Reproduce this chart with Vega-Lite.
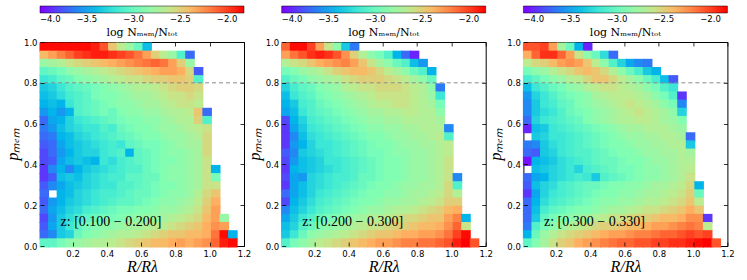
{
"$schema":"https://vega.github.io/schema/vega-lite/v6.json",
"padding":{"left":3,"top":5,"right":5,"bottom":0},
"background":"white",
"config":{
"view":{"stroke":"black","strokeWidth":1},
"rect":{"binSpacing":0},
"axis":{"grid":false,"domain":false,"tickColor":"black","tickSize":-4,"tickWidth":0.8,"labelFont":"DejaVu Sans","labelFontSize":8.5,"labelColor":"black","labelPadding":7,"labelFlush":false,"titleFont":"Liberation Serif","titleFontStyle":"italic","titleFontWeight":"normal","titleFontSize":16,"titleColor":"black"},
"legend":{"orient":"top","direction":"horizontal","gradientLength":204,"gradientThickness":7,"titleOrient":"bottom","titleAnchor":"middle","labelAlign":"center","labelOffset":2,"titlePadding":3,"offset":3,"padding":0,"titleFont":"DejaVu Serif","titleFontSize":11,"titleFontWeight":"normal","titleColor":"black","labelFont":"DejaVu Sans","labelFontSize":8.5,"labelColor":"black","gradientStrokeColor":"black","gradientStrokeWidth":0.5}
},
"datasets":{
"z1":[
{"r":0.01,"p":0.96,"v":-1.85},{"r":0.06,"p":0.96,"v":-1.85},{"r":0.11,"p":0.96,"v":-1.85},{"r":0.16,"p":0.96,"v":-1.85},{"r":0.21,"p":0.96,"v":-1.85},{"r":0.26,"p":0.96,"v":-1.85},{"r":0.31,"p":0.96,"v":-1.9},{"r":0.36,"p":0.96,"v":-2.05},{"r":0.41,"p":0.96,"v":-2.45},{"r":0.46,"p":0.96,"v":-2.65},{"r":0.51,"p":0.96,"v":-2.8},{"r":0.56,"p":0.96,"v":-3.0},{"r":0.61,"p":0.96,"v":-3.4},
{"r":0.01,"p":0.92,"v":-2.4},{"r":0.06,"p":0.92,"v":-2.3},{"r":0.11,"p":0.92,"v":-2.2},{"r":0.16,"p":0.92,"v":-2.1},{"r":0.21,"p":0.92,"v":-2.0},{"r":0.26,"p":0.92,"v":-1.95},{"r":0.31,"p":0.92,"v":-1.9},{"r":0.36,"p":0.92,"v":-1.9},{"r":0.41,"p":0.92,"v":-1.95},{"r":0.46,"p":0.92,"v":-2.0},{"r":0.51,"p":0.92,"v":-2.05},{"r":0.56,"p":0.92,"v":-2.15},{"r":0.61,"p":0.92,"v":-2.3},{"r":0.66,"p":0.92,"v":-2.5},{"r":0.71,"p":0.92,"v":-2.65},{"r":0.76,"p":0.92,"v":-2.8},{"r":0.81,"p":0.92,"v":-3.1},{"r":0.86,"p":0.92,"v":-3.7},
{"r":0.01,"p":0.88,"v":-2.8},{"r":0.06,"p":0.88,"v":-2.75},{"r":0.11,"p":0.88,"v":-2.7},{"r":0.16,"p":0.88,"v":-2.6},{"r":0.21,"p":0.88,"v":-2.55},{"r":0.26,"p":0.88,"v":-2.5},{"r":0.31,"p":0.88,"v":-2.45},{"r":0.36,"p":0.88,"v":-2.4},{"r":0.41,"p":0.88,"v":-2.35},{"r":0.46,"p":0.88,"v":-2.3},{"r":0.51,"p":0.88,"v":-2.25},{"r":0.56,"p":0.88,"v":-2.2},{"r":0.61,"p":0.88,"v":-2.15},{"r":0.66,"p":0.88,"v":-2.1},{"r":0.71,"p":0.88,"v":-2.15},{"r":0.76,"p":0.88,"v":-2.3},{"r":0.81,"p":0.88,"v":-2.5},{"r":0.86,"p":0.88,"v":-2.8},
{"r":0.01,"p":0.84,"v":-3.05},{"r":0.06,"p":0.84,"v":-3.0},{"r":0.11,"p":0.84,"v":-2.95},{"r":0.16,"p":0.84,"v":-2.85},{"r":0.21,"p":0.84,"v":-2.8},{"r":0.26,"p":0.84,"v":-2.75},{"r":0.31,"p":0.84,"v":-2.7},{"r":0.36,"p":0.84,"v":-2.65},{"r":0.41,"p":0.84,"v":-2.6},{"r":0.46,"p":0.84,"v":-2.55},{"r":0.51,"p":0.84,"v":-2.5},{"r":0.56,"p":0.84,"v":-2.45},{"r":0.61,"p":0.84,"v":-2.4},{"r":0.66,"p":0.84,"v":-2.35},{"r":0.71,"p":0.84,"v":-2.3},{"r":0.76,"p":0.84,"v":-2.3},{"r":0.81,"p":0.84,"v":-2.35},{"r":0.86,"p":0.84,"v":-2.55},{"r":0.91,"p":0.84,"v":-3.75},
{"r":0.01,"p":0.8,"v":-3.2},{"r":0.06,"p":0.8,"v":-3.15},{"r":0.11,"p":0.8,"v":-3.05},{"r":0.16,"p":0.8,"v":-3.0},{"r":0.21,"p":0.8,"v":-2.9},{"r":0.26,"p":0.8,"v":-2.85},{"r":0.31,"p":0.8,"v":-2.8},{"r":0.36,"p":0.8,"v":-2.75},{"r":0.41,"p":0.8,"v":-2.7},{"r":0.46,"p":0.8,"v":-2.65},{"r":0.51,"p":0.8,"v":-2.6},{"r":0.56,"p":0.8,"v":-2.6},{"r":0.61,"p":0.8,"v":-2.55},{"r":0.66,"p":0.8,"v":-2.5},{"r":0.71,"p":0.8,"v":-2.5},{"r":0.76,"p":0.8,"v":-2.45},{"r":0.81,"p":0.8,"v":-2.45},{"r":0.86,"p":0.8,"v":-2.5},{"r":0.91,"p":0.8,"v":-3.1},
{"r":0.01,"p":0.76,"v":-3.35},{"r":0.06,"p":0.76,"v":-3.3},{"r":0.11,"p":0.76,"v":-3.2},{"r":0.16,"p":0.76,"v":-3.1},{"r":0.21,"p":0.76,"v":-3.05},{"r":0.26,"p":0.76,"v":-3.0},{"r":0.31,"p":0.76,"v":-2.95},{"r":0.36,"p":0.76,"v":-2.9},{"r":0.41,"p":0.76,"v":-2.85},{"r":0.46,"p":0.76,"v":-2.8},{"r":0.51,"p":0.76,"v":-2.75},{"r":0.56,"p":0.76,"v":-2.7},{"r":0.61,"p":0.76,"v":-2.7},{"r":0.66,"p":0.76,"v":-2.65},{"r":0.71,"p":0.76,"v":-2.6},{"r":0.76,"p":0.76,"v":-2.55},{"r":0.81,"p":0.76,"v":-2.5},{"r":0.86,"p":0.76,"v":-2.5},{"r":0.91,"p":0.76,"v":-2.55},
{"r":0.01,"p":0.72,"v":-3.4},{"r":0.06,"p":0.72,"v":-3.35},{"r":0.11,"p":0.72,"v":-3.25},{"r":0.16,"p":0.72,"v":-3.15},{"r":0.21,"p":0.72,"v":-3.1},{"r":0.26,"p":0.72,"v":-3.05},{"r":0.31,"p":0.72,"v":-2.95},{"r":0.36,"p":0.72,"v":-2.9},{"r":0.41,"p":0.72,"v":-2.9},{"r":0.46,"p":0.72,"v":-2.85},{"r":0.51,"p":0.72,"v":-2.8},{"r":0.56,"p":0.72,"v":-2.75},{"r":0.61,"p":0.72,"v":-2.75},{"r":0.66,"p":0.72,"v":-2.7},{"r":0.71,"p":0.72,"v":-2.65},{"r":0.76,"p":0.72,"v":-2.6},{"r":0.81,"p":0.72,"v":-2.6},{"r":0.86,"p":0.72,"v":-2.55},{"r":0.91,"p":0.72,"v":-2.6},
{"r":0.01,"p":0.68,"v":-3.45},{"r":0.06,"p":0.68,"v":-3.4},{"r":0.11,"p":0.68,"v":-3.45},{"r":0.16,"p":0.68,"v":-3.2},{"r":0.21,"p":0.68,"v":-3.1},{"r":0.26,"p":0.68,"v":-3.05},{"r":0.31,"p":0.68,"v":-3.0},{"r":0.36,"p":0.68,"v":-2.95},{"r":0.41,"p":0.68,"v":-2.9},{"r":0.46,"p":0.68,"v":-2.85},{"r":0.51,"p":0.68,"v":-2.85},{"r":0.56,"p":0.68,"v":-2.8},{"r":0.61,"p":0.68,"v":-2.75},{"r":0.66,"p":0.68,"v":-2.75},{"r":0.71,"p":0.68,"v":-2.7},{"r":0.76,"p":0.68,"v":-2.65},{"r":0.81,"p":0.68,"v":-2.6},{"r":0.86,"p":0.68,"v":-2.6},{"r":0.91,"p":0.68,"v":-2.65},
{"r":0.01,"p":0.64,"v":-3.55},{"r":0.06,"p":0.64,"v":-3.45},{"r":0.11,"p":0.64,"v":-3.55},{"r":0.16,"p":0.64,"v":-3.45},{"r":0.21,"p":0.64,"v":-3.1},{"r":0.26,"p":0.64,"v":-3.05},{"r":0.31,"p":0.64,"v":-3.0},{"r":0.36,"p":0.64,"v":-2.95},{"r":0.41,"p":0.64,"v":-3.0},{"r":0.46,"p":0.64,"v":-2.9},{"r":0.51,"p":0.64,"v":-2.85},{"r":0.56,"p":0.64,"v":-2.85},{"r":0.61,"p":0.64,"v":-2.8},{"r":0.66,"p":0.64,"v":-2.8},{"r":0.71,"p":0.64,"v":-2.75},{"r":0.76,"p":0.64,"v":-2.7},{"r":0.81,"p":0.64,"v":-2.7},{"r":0.86,"p":0.64,"v":-2.65},{"r":0.91,"p":0.64,"v":-2.45},{"r":0.96,"p":0.64,"v":-3.7},
{"r":0.01,"p":0.6,"v":-3.7},{"r":0.06,"p":0.6,"v":-3.5},{"r":0.11,"p":0.6,"v":-3.45},{"r":0.16,"p":0.6,"v":-3.3},{"r":0.21,"p":0.6,"v":-3.2},{"r":0.26,"p":0.6,"v":-3.15},{"r":0.31,"p":0.6,"v":-3.1},{"r":0.36,"p":0.6,"v":-3.05},{"r":0.41,"p":0.6,"v":-3.0},{"r":0.46,"p":0.6,"v":-2.95},{"r":0.51,"p":0.6,"v":-2.9},{"r":0.56,"p":0.6,"v":-2.9},{"r":0.61,"p":0.6,"v":-2.85},{"r":0.66,"p":0.6,"v":-2.85},{"r":0.71,"p":0.6,"v":-2.8},{"r":0.76,"p":0.6,"v":-2.75},{"r":0.81,"p":0.6,"v":-2.7},{"r":0.86,"p":0.6,"v":-2.7},{"r":0.91,"p":0.6,"v":-2.5},{"r":0.96,"p":0.6,"v":-3.1},
{"r":0.01,"p":0.56,"v":-3.65},{"r":0.06,"p":0.56,"v":-3.55},{"r":0.11,"p":0.56,"v":-3.4},{"r":0.16,"p":0.56,"v":-3.3},{"r":0.21,"p":0.56,"v":-3.25},{"r":0.26,"p":0.56,"v":-3.2},{"r":0.31,"p":0.56,"v":-3.2},{"r":0.36,"p":0.56,"v":-3.1},{"r":0.41,"p":0.56,"v":-3.15},{"r":0.46,"p":0.56,"v":-3.0},{"r":0.51,"p":0.56,"v":-2.95},{"r":0.56,"p":0.56,"v":-2.9},{"r":0.61,"p":0.56,"v":-2.9},{"r":0.66,"p":0.56,"v":-2.85},{"r":0.71,"p":0.56,"v":-2.8},{"r":0.76,"p":0.56,"v":-2.8},{"r":0.81,"p":0.56,"v":-2.75},{"r":0.86,"p":0.56,"v":-2.7},{"r":0.91,"p":0.56,"v":-2.65},{"r":0.96,"p":0.56,"v":-2.6},
{"r":0.01,"p":0.52,"v":-3.7},{"r":0.06,"p":0.52,"v":-3.65},{"r":0.11,"p":0.52,"v":-3.45},{"r":0.16,"p":0.52,"v":-3.4},{"r":0.21,"p":0.52,"v":-3.3},{"r":0.26,"p":0.52,"v":-3.25},{"r":0.31,"p":0.52,"v":-3.2},{"r":0.36,"p":0.52,"v":-3.15},{"r":0.41,"p":0.52,"v":-3.1},{"r":0.46,"p":0.52,"v":-3.05},{"r":0.51,"p":0.52,"v":-3.0},{"r":0.56,"p":0.52,"v":-2.95},{"r":0.61,"p":0.52,"v":-2.9},{"r":0.66,"p":0.52,"v":-2.9},{"r":0.71,"p":0.52,"v":-2.85},{"r":0.76,"p":0.52,"v":-2.8},{"r":0.81,"p":0.52,"v":-2.8},{"r":0.86,"p":0.52,"v":-2.75},{"r":0.91,"p":0.52,"v":-2.7},{"r":0.96,"p":0.52,"v":-2.55},
{"r":0.01,"p":0.48,"v":-3.75},{"r":0.06,"p":0.48,"v":-3.7},{"r":0.11,"p":0.48,"v":-3.5},{"r":0.16,"p":0.48,"v":-3.4},{"r":0.21,"p":0.48,"v":-3.35},{"r":0.26,"p":0.48,"v":-3.3},{"r":0.31,"p":0.48,"v":-3.25},{"r":0.36,"p":0.48,"v":-3.2},{"r":0.41,"p":0.48,"v":-3.15},{"r":0.46,"p":0.48,"v":-3.2},{"r":0.51,"p":0.48,"v":-3.05},{"r":0.56,"p":0.48,"v":-3.0},{"r":0.61,"p":0.48,"v":-2.95},{"r":0.66,"p":0.48,"v":-2.95},{"r":0.71,"p":0.48,"v":-2.9},{"r":0.76,"p":0.48,"v":-2.85},{"r":0.81,"p":0.48,"v":-2.8},{"r":0.86,"p":0.48,"v":-2.75},{"r":0.91,"p":0.48,"v":-2.75},{"r":0.96,"p":0.48,"v":-2.55},
{"r":0.01,"p":0.44,"v":-3.8},{"r":0.06,"p":0.44,"v":-3.7},{"r":0.11,"p":0.44,"v":-3.55},{"r":0.16,"p":0.44,"v":-3.45},{"r":0.21,"p":0.44,"v":-3.35},{"r":0.26,"p":0.44,"v":-3.3},{"r":0.31,"p":0.44,"v":-3.3},{"r":0.36,"p":0.44,"v":-3.2},{"r":0.41,"p":0.44,"v":-3.15},{"r":0.46,"p":0.44,"v":-3.1},{"r":0.51,"p":0.44,"v":-3.45},{"r":0.56,"p":0.44,"v":-3.05},{"r":0.61,"p":0.44,"v":-3.0},{"r":0.66,"p":0.44,"v":-2.95},{"r":0.71,"p":0.44,"v":-2.9},{"r":0.76,"p":0.44,"v":-2.85},{"r":0.81,"p":0.44,"v":-2.85},{"r":0.86,"p":0.44,"v":-2.8},{"r":0.91,"p":0.44,"v":-2.75},{"r":0.96,"p":0.44,"v":-2.55},
{"r":0.01,"p":0.4,"v":-3.8},{"r":0.06,"p":0.4,"v":-3.75},{"r":0.11,"p":0.4,"v":-3.5},{"r":0.16,"p":0.4,"v":-3.4},{"r":0.21,"p":0.4,"v":-3.35},{"r":0.26,"p":0.4,"v":-3.4},{"r":0.31,"p":0.4,"v":-3.45},{"r":0.36,"p":0.4,"v":-3.2},{"r":0.41,"p":0.4,"v":-3.25},{"r":0.46,"p":0.4,"v":-3.15},{"r":0.51,"p":0.4,"v":-3.1},{"r":0.56,"p":0.4,"v":-3.05},{"r":0.61,"p":0.4,"v":-3.0},{"r":0.66,"p":0.4,"v":-2.95},{"r":0.71,"p":0.4,"v":-2.9},{"r":0.76,"p":0.4,"v":-2.9},{"r":0.81,"p":0.4,"v":-2.85},{"r":0.86,"p":0.4,"v":-2.8},{"r":0.91,"p":0.4,"v":-2.75},{"r":0.96,"p":0.4,"v":-2.6},
{"r":0.01,"p":0.36,"v":-3.85},{"r":0.06,"p":0.36,"v":-3.6},{"r":0.11,"p":0.36,"v":-3.45},{"r":0.16,"p":0.36,"v":-3.6},{"r":0.21,"p":0.36,"v":-3.45},{"r":0.26,"p":0.36,"v":-3.35},{"r":0.31,"p":0.36,"v":-3.3},{"r":0.36,"p":0.36,"v":-3.25},{"r":0.41,"p":0.36,"v":-3.2},{"r":0.46,"p":0.36,"v":-3.15},{"r":0.51,"p":0.36,"v":-3.1},{"r":0.56,"p":0.36,"v":-3.1},{"r":0.61,"p":0.36,"v":-3.0},{"r":0.66,"p":0.36,"v":-2.95},{"r":0.71,"p":0.36,"v":-2.9},{"r":0.76,"p":0.36,"v":-2.85},{"r":0.81,"p":0.36,"v":-2.85},{"r":0.86,"p":0.36,"v":-2.8},{"r":0.91,"p":0.36,"v":-2.75},{"r":0.96,"p":0.36,"v":-2.6},{"r":1.01,"p":0.36,"v":-3.45},
{"r":0.01,"p":0.32,"v":-3.85},{"r":0.06,"p":0.32,"v":-3.75},{"r":0.11,"p":0.32,"v":-3.4},{"r":0.16,"p":0.32,"v":-3.35},{"r":0.21,"p":0.32,"v":-3.4},{"r":0.26,"p":0.32,"v":-3.3},{"r":0.31,"p":0.32,"v":-3.25},{"r":0.36,"p":0.32,"v":-3.2},{"r":0.41,"p":0.32,"v":-3.15},{"r":0.46,"p":0.32,"v":-3.15},{"r":0.51,"p":0.32,"v":-3.05},{"r":0.56,"p":0.32,"v":-3.05},{"r":0.61,"p":0.32,"v":-3.0},{"r":0.66,"p":0.32,"v":-3.0},{"r":0.71,"p":0.32,"v":-2.9},{"r":0.76,"p":0.32,"v":-2.85},{"r":0.81,"p":0.32,"v":-2.85},{"r":0.86,"p":0.32,"v":-2.8},{"r":0.91,"p":0.32,"v":-2.75},{"r":0.96,"p":0.32,"v":-2.6},{"r":1.01,"p":0.32,"v":-2.95},
{"r":0.01,"p":0.28,"v":-3.75},{"r":0.06,"p":0.28,"v":-3.6},{"r":0.11,"p":0.28,"v":-3.5},{"r":0.16,"p":0.28,"v":-3.4},{"r":0.21,"p":0.28,"v":-3.35},{"r":0.26,"p":0.28,"v":-3.3},{"r":0.31,"p":0.28,"v":-3.25},{"r":0.36,"p":0.28,"v":-3.2},{"r":0.41,"p":0.28,"v":-3.2},{"r":0.46,"p":0.28,"v":-3.1},{"r":0.51,"p":0.28,"v":-3.1},{"r":0.56,"p":0.28,"v":-3.05},{"r":0.61,"p":0.28,"v":-3.0},{"r":0.66,"p":0.28,"v":-2.95},{"r":0.71,"p":0.28,"v":-2.9},{"r":0.76,"p":0.28,"v":-2.9},{"r":0.81,"p":0.28,"v":-2.85},{"r":0.86,"p":0.28,"v":-2.8},{"r":0.91,"p":0.28,"v":-2.75},{"r":0.96,"p":0.28,"v":-2.6},{"r":1.01,"p":0.28,"v":-2.6},
{"r":0.01,"p":0.24,"v":-3.7},{"r":0.11,"p":0.24,"v":-3.45},{"r":0.16,"p":0.24,"v":-3.4},{"r":0.21,"p":0.24,"v":-3.3},{"r":0.26,"p":0.24,"v":-3.25},{"r":0.31,"p":0.24,"v":-3.2},{"r":0.36,"p":0.24,"v":-3.15},{"r":0.41,"p":0.24,"v":-3.15},{"r":0.46,"p":0.24,"v":-3.1},{"r":0.51,"p":0.24,"v":-3.05},{"r":0.56,"p":0.24,"v":-3.0},{"r":0.61,"p":0.24,"v":-3.0},{"r":0.66,"p":0.24,"v":-2.95},{"r":0.71,"p":0.24,"v":-2.9},{"r":0.76,"p":0.24,"v":-2.85},{"r":0.81,"p":0.24,"v":-2.85},{"r":0.86,"p":0.24,"v":-2.8},{"r":0.91,"p":0.24,"v":-2.7},{"r":0.96,"p":0.24,"v":-2.55},{"r":1.01,"p":0.24,"v":-2.45},
{"r":0.01,"p":0.2,"v":-3.75},{"r":0.06,"p":0.2,"v":-3.55},{"r":0.11,"p":0.2,"v":-3.45},{"r":0.16,"p":0.2,"v":-3.35},{"r":0.21,"p":0.2,"v":-3.3},{"r":0.26,"p":0.2,"v":-3.25},{"r":0.31,"p":0.2,"v":-3.2},{"r":0.36,"p":0.2,"v":-3.15},{"r":0.41,"p":0.2,"v":-3.1},{"r":0.46,"p":0.2,"v":-3.05},{"r":0.51,"p":0.2,"v":-3.05},{"r":0.56,"p":0.2,"v":-3.0},{"r":0.61,"p":0.2,"v":-2.95},{"r":0.66,"p":0.2,"v":-2.9},{"r":0.71,"p":0.2,"v":-2.85},{"r":0.76,"p":0.2,"v":-2.85},{"r":0.81,"p":0.2,"v":-2.8},{"r":0.86,"p":0.2,"v":-2.75},{"r":0.91,"p":0.2,"v":-2.65},{"r":0.96,"p":0.2,"v":-2.5},{"r":1.01,"p":0.2,"v":-2.35},
{"r":0.01,"p":0.16,"v":-3.7},{"r":0.06,"p":0.16,"v":-3.5},{"r":0.11,"p":0.16,"v":-3.4},{"r":0.16,"p":0.16,"v":-3.3},{"r":0.21,"p":0.16,"v":-3.25},{"r":0.26,"p":0.16,"v":-3.15},{"r":0.31,"p":0.16,"v":-3.1},{"r":0.36,"p":0.16,"v":-3.05},{"r":0.41,"p":0.16,"v":-3.0},{"r":0.46,"p":0.16,"v":-2.95},{"r":0.51,"p":0.16,"v":-2.95},{"r":0.56,"p":0.16,"v":-2.9},{"r":0.61,"p":0.16,"v":-2.9},{"r":0.66,"p":0.16,"v":-2.85},{"r":0.71,"p":0.16,"v":-2.8},{"r":0.76,"p":0.16,"v":-2.8},{"r":0.81,"p":0.16,"v":-2.75},{"r":0.86,"p":0.16,"v":-2.7},{"r":0.91,"p":0.16,"v":-2.6},{"r":0.96,"p":0.16,"v":-2.45},{"r":1.01,"p":0.16,"v":-2.3},
{"r":0.01,"p":0.12,"v":-3.8},{"r":0.06,"p":0.12,"v":-3.55},{"r":0.11,"p":0.12,"v":-3.35},{"r":0.16,"p":0.12,"v":-3.25},{"r":0.21,"p":0.12,"v":-3.15},{"r":0.26,"p":0.12,"v":-3.05},{"r":0.31,"p":0.12,"v":-3.0},{"r":0.36,"p":0.12,"v":-2.95},{"r":0.41,"p":0.12,"v":-2.95},{"r":0.46,"p":0.12,"v":-2.9},{"r":0.51,"p":0.12,"v":-2.85},{"r":0.56,"p":0.12,"v":-2.85},{"r":0.61,"p":0.12,"v":-2.8},{"r":0.66,"p":0.12,"v":-2.8},{"r":0.71,"p":0.12,"v":-2.75},{"r":0.76,"p":0.12,"v":-2.7},{"r":0.81,"p":0.12,"v":-2.65},{"r":0.86,"p":0.12,"v":-2.6},{"r":0.91,"p":0.12,"v":-2.55},{"r":0.96,"p":0.12,"v":-2.4},{"r":1.01,"p":0.12,"v":-2.3},{"r":1.06,"p":0.12,"v":-2.8},
{"r":0.01,"p":0.08,"v":-3.75},{"r":0.06,"p":0.08,"v":-3.5},{"r":0.11,"p":0.08,"v":-3.35},{"r":0.16,"p":0.08,"v":-3.2},{"r":0.21,"p":0.08,"v":-3.05},{"r":0.26,"p":0.08,"v":-2.95},{"r":0.31,"p":0.08,"v":-2.9},{"r":0.36,"p":0.08,"v":-2.85},{"r":0.41,"p":0.08,"v":-2.85},{"r":0.46,"p":0.08,"v":-2.8},{"r":0.51,"p":0.08,"v":-2.75},{"r":0.56,"p":0.08,"v":-2.75},{"r":0.61,"p":0.08,"v":-2.7},{"r":0.66,"p":0.08,"v":-2.65},{"r":0.71,"p":0.08,"v":-2.65},{"r":0.76,"p":0.08,"v":-2.6},{"r":0.81,"p":0.08,"v":-2.55},{"r":0.86,"p":0.08,"v":-2.5},{"r":0.91,"p":0.08,"v":-2.45},{"r":0.96,"p":0.08,"v":-2.35},{"r":1.01,"p":0.08,"v":-2.25},{"r":1.06,"p":0.08,"v":-2.3},
{"r":0.01,"p":0.04,"v":-3.7},{"r":0.06,"p":0.04,"v":-3.6},{"r":0.11,"p":0.04,"v":-3.35},{"r":0.16,"p":0.04,"v":-3.3},{"r":0.21,"p":0.04,"v":-3.0},{"r":0.26,"p":0.04,"v":-2.9},{"r":0.31,"p":0.04,"v":-2.85},{"r":0.36,"p":0.04,"v":-2.8},{"r":0.41,"p":0.04,"v":-2.75},{"r":0.46,"p":0.04,"v":-2.7},{"r":0.51,"p":0.04,"v":-2.7},{"r":0.56,"p":0.04,"v":-2.65},{"r":0.61,"p":0.04,"v":-2.6},{"r":0.66,"p":0.04,"v":-2.55},{"r":0.71,"p":0.04,"v":-2.5},{"r":0.76,"p":0.04,"v":-2.45},{"r":0.81,"p":0.04,"v":-2.45},{"r":0.86,"p":0.04,"v":-2.4},{"r":0.91,"p":0.04,"v":-2.4},{"r":0.96,"p":0.04,"v":-2.35},{"r":1.01,"p":0.04,"v":-2.15},{"r":1.06,"p":0.04,"v":-1.85},{"r":1.11,"p":0.04,"v":-3.45},
{"r":0.01,"p":0.0,"v":-3.05},{"r":0.06,"p":0.0,"v":-3.05},{"r":0.11,"p":0.0,"v":-2.95},{"r":0.16,"p":0.0,"v":-2.85},{"r":0.21,"p":0.0,"v":-2.8},{"r":0.26,"p":0.0,"v":-2.75},{"r":0.31,"p":0.0,"v":-2.7},{"r":0.36,"p":0.0,"v":-2.7},{"r":0.41,"p":0.0,"v":-2.65},{"r":0.46,"p":0.0,"v":-2.6},{"r":0.51,"p":0.0,"v":-2.55},{"r":0.56,"p":0.0,"v":-2.5},{"r":0.61,"p":0.0,"v":-2.45},{"r":0.66,"p":0.0,"v":-2.4},{"r":0.71,"p":0.0,"v":-2.4},{"r":0.76,"p":0.0,"v":-2.35},{"r":0.81,"p":0.0,"v":-2.3},{"r":0.86,"p":0.0,"v":-2.35},{"r":0.91,"p":0.0,"v":-2.3},{"r":0.96,"p":0.0,"v":-2.25},{"r":1.01,"p":0.0,"v":-2.1},{"r":1.06,"p":0.0,"v":-1.9},{"r":1.11,"p":0.0,"v":-1.85}
],
"z2":[
{"r":0.01,"p":0.96,"v":-2.1},{"r":0.06,"p":0.96,"v":-1.85},{"r":0.11,"p":0.96,"v":-1.85},{"r":0.16,"p":0.96,"v":-2.0},{"r":0.21,"p":0.96,"v":-2.3},{"r":0.26,"p":0.96,"v":-2.6},{"r":0.31,"p":0.96,"v":-2.85},{"r":0.36,"p":0.96,"v":-3.35},{"r":0.41,"p":0.96,"v":-3.65},
{"r":0.01,"p":0.92,"v":-2.3},{"r":0.06,"p":0.92,"v":-2.15},{"r":0.11,"p":0.92,"v":-2.05},{"r":0.16,"p":0.92,"v":-1.95},{"r":0.21,"p":0.92,"v":-1.9},{"r":0.26,"p":0.92,"v":-1.95},{"r":0.31,"p":0.92,"v":-2.05},{"r":0.36,"p":0.92,"v":-2.25},{"r":0.41,"p":0.92,"v":-2.5},{"r":0.46,"p":0.92,"v":-2.7},{"r":0.51,"p":0.92,"v":-2.85},{"r":0.56,"p":0.92,"v":-2.95},{"r":0.61,"p":0.92,"v":-3.1},{"r":0.66,"p":0.92,"v":-3.45},{"r":0.71,"p":0.92,"v":-3.7},{"r":0.76,"p":0.92,"v":-3.9},
{"r":0.01,"p":0.88,"v":-2.7},{"r":0.06,"p":0.88,"v":-2.6},{"r":0.11,"p":0.88,"v":-2.55},{"r":0.16,"p":0.88,"v":-2.45},{"r":0.21,"p":0.88,"v":-2.35},{"r":0.26,"p":0.88,"v":-2.3},{"r":0.31,"p":0.88,"v":-2.25},{"r":0.36,"p":0.88,"v":-2.2},{"r":0.41,"p":0.88,"v":-2.3},{"r":0.46,"p":0.88,"v":-2.45},{"r":0.51,"p":0.88,"v":-2.6},{"r":0.56,"p":0.88,"v":-2.75},{"r":0.61,"p":0.88,"v":-2.85},{"r":0.66,"p":0.88,"v":-3.0},{"r":0.71,"p":0.88,"v":-3.1},{"r":0.76,"p":0.88,"v":-3.4},{"r":0.81,"p":0.88,"v":-3.55},
{"r":0.01,"p":0.84,"v":-2.95},{"r":0.06,"p":0.84,"v":-2.9},{"r":0.11,"p":0.84,"v":-2.8},{"r":0.16,"p":0.84,"v":-2.75},{"r":0.21,"p":0.84,"v":-2.7},{"r":0.26,"p":0.84,"v":-2.6},{"r":0.31,"p":0.84,"v":-2.5},{"r":0.36,"p":0.84,"v":-2.45},{"r":0.41,"p":0.84,"v":-2.4},{"r":0.46,"p":0.84,"v":-2.4},{"r":0.51,"p":0.84,"v":-2.45},{"r":0.56,"p":0.84,"v":-2.55},{"r":0.61,"p":0.84,"v":-2.65},{"r":0.66,"p":0.84,"v":-2.75},{"r":0.71,"p":0.84,"v":-2.85},{"r":0.76,"p":0.84,"v":-3.0},{"r":0.81,"p":0.84,"v":-3.1},{"r":0.86,"p":0.84,"v":-3.45},
{"r":0.01,"p":0.8,"v":-3.1},{"r":0.06,"p":0.8,"v":-3.0},{"r":0.11,"p":0.8,"v":-2.95},{"r":0.16,"p":0.8,"v":-2.85},{"r":0.21,"p":0.8,"v":-2.8},{"r":0.26,"p":0.8,"v":-2.75},{"r":0.31,"p":0.8,"v":-2.7},{"r":0.36,"p":0.8,"v":-2.6},{"r":0.41,"p":0.8,"v":-2.55},{"r":0.46,"p":0.8,"v":-2.5},{"r":0.51,"p":0.8,"v":-2.5},{"r":0.56,"p":0.8,"v":-2.5},{"r":0.61,"p":0.8,"v":-2.55},{"r":0.66,"p":0.8,"v":-2.6},{"r":0.71,"p":0.8,"v":-2.65},{"r":0.76,"p":0.8,"v":-2.75},{"r":0.81,"p":0.8,"v":-2.85},{"r":0.86,"p":0.8,"v":-3.0},
{"r":0.01,"p":0.76,"v":-3.3},{"r":0.06,"p":0.76,"v":-3.15},{"r":0.11,"p":0.76,"v":-3.05},{"r":0.16,"p":0.76,"v":-3.0},{"r":0.21,"p":0.76,"v":-2.9},{"r":0.26,"p":0.76,"v":-2.85},{"r":0.31,"p":0.76,"v":-2.8},{"r":0.36,"p":0.76,"v":-2.7},{"r":0.41,"p":0.76,"v":-2.65},{"r":0.46,"p":0.76,"v":-2.6},{"r":0.51,"p":0.76,"v":-2.6},{"r":0.56,"p":0.76,"v":-2.55},{"r":0.61,"p":0.76,"v":-2.55},{"r":0.66,"p":0.76,"v":-2.55},{"r":0.71,"p":0.76,"v":-2.6},{"r":0.76,"p":0.76,"v":-2.65},{"r":0.81,"p":0.76,"v":-2.7},{"r":0.86,"p":0.76,"v":-2.85},{"r":0.91,"p":0.76,"v":-3.65},
{"r":0.01,"p":0.72,"v":-3.4},{"r":0.06,"p":0.72,"v":-3.2},{"r":0.11,"p":0.72,"v":-3.1},{"r":0.16,"p":0.72,"v":-3.05},{"r":0.21,"p":0.72,"v":-2.95},{"r":0.26,"p":0.72,"v":-2.9},{"r":0.31,"p":0.72,"v":-2.85},{"r":0.36,"p":0.72,"v":-2.8},{"r":0.41,"p":0.72,"v":-2.75},{"r":0.46,"p":0.72,"v":-2.7},{"r":0.51,"p":0.72,"v":-2.65},{"r":0.56,"p":0.72,"v":-2.6},{"r":0.61,"p":0.72,"v":-2.6},{"r":0.66,"p":0.72,"v":-2.6},{"r":0.71,"p":0.72,"v":-2.6},{"r":0.76,"p":0.72,"v":-2.65},{"r":0.81,"p":0.72,"v":-2.7},{"r":0.86,"p":0.72,"v":-2.8},{"r":0.91,"p":0.72,"v":-3.2},
{"r":0.01,"p":0.68,"v":-3.45},{"r":0.06,"p":0.68,"v":-3.35},{"r":0.11,"p":0.68,"v":-3.15},{"r":0.16,"p":0.68,"v":-3.1},{"r":0.21,"p":0.68,"v":-3.0},{"r":0.26,"p":0.68,"v":-2.95},{"r":0.31,"p":0.68,"v":-2.9},{"r":0.36,"p":0.68,"v":-2.85},{"r":0.41,"p":0.68,"v":-2.8},{"r":0.46,"p":0.68,"v":-2.75},{"r":0.51,"p":0.68,"v":-2.7},{"r":0.56,"p":0.68,"v":-2.65},{"r":0.61,"p":0.68,"v":-2.65},{"r":0.66,"p":0.68,"v":-2.6},{"r":0.71,"p":0.68,"v":-2.6},{"r":0.76,"p":0.68,"v":-2.65},{"r":0.81,"p":0.68,"v":-2.7},{"r":0.86,"p":0.68,"v":-2.75},{"r":0.91,"p":0.68,"v":-2.95},
{"r":0.01,"p":0.64,"v":-3.5},{"r":0.06,"p":0.64,"v":-3.4},{"r":0.11,"p":0.64,"v":-3.2},{"r":0.16,"p":0.64,"v":-3.1},{"r":0.21,"p":0.64,"v":-3.05},{"r":0.26,"p":0.64,"v":-3.0},{"r":0.31,"p":0.64,"v":-2.95},{"r":0.36,"p":0.64,"v":-2.9},{"r":0.41,"p":0.64,"v":-2.85},{"r":0.46,"p":0.64,"v":-2.8},{"r":0.51,"p":0.64,"v":-2.75},{"r":0.56,"p":0.64,"v":-2.75},{"r":0.61,"p":0.64,"v":-2.7},{"r":0.66,"p":0.64,"v":-2.7},{"r":0.71,"p":0.64,"v":-2.65},{"r":0.76,"p":0.64,"v":-2.65},{"r":0.81,"p":0.64,"v":-2.7},{"r":0.86,"p":0.64,"v":-2.7},{"r":0.91,"p":0.64,"v":-2.85},
{"r":0.01,"p":0.6,"v":-3.8},{"r":0.06,"p":0.6,"v":-3.45},{"r":0.11,"p":0.6,"v":-3.3},{"r":0.16,"p":0.6,"v":-3.15},{"r":0.21,"p":0.6,"v":-3.1},{"r":0.26,"p":0.6,"v":-3.05},{"r":0.31,"p":0.6,"v":-3.0},{"r":0.36,"p":0.6,"v":-2.95},{"r":0.41,"p":0.6,"v":-2.9},{"r":0.46,"p":0.6,"v":-2.85},{"r":0.51,"p":0.6,"v":-2.8},{"r":0.56,"p":0.6,"v":-2.8},{"r":0.61,"p":0.6,"v":-2.75},{"r":0.66,"p":0.6,"v":-2.75},{"r":0.71,"p":0.6,"v":-2.7},{"r":0.76,"p":0.6,"v":-2.7},{"r":0.81,"p":0.6,"v":-2.7},{"r":0.86,"p":0.6,"v":-2.7},{"r":0.91,"p":0.6,"v":-2.75},
{"r":0.01,"p":0.56,"v":-3.85},{"r":0.06,"p":0.56,"v":-3.5},{"r":0.11,"p":0.56,"v":-3.35},{"r":0.16,"p":0.56,"v":-3.2},{"r":0.21,"p":0.56,"v":-3.15},{"r":0.26,"p":0.56,"v":-3.1},{"r":0.31,"p":0.56,"v":-3.05},{"r":0.36,"p":0.56,"v":-3.0},{"r":0.41,"p":0.56,"v":-2.95},{"r":0.46,"p":0.56,"v":-2.9},{"r":0.51,"p":0.56,"v":-2.85},{"r":0.56,"p":0.56,"v":-2.85},{"r":0.61,"p":0.56,"v":-2.8},{"r":0.66,"p":0.56,"v":-2.8},{"r":0.71,"p":0.56,"v":-2.75},{"r":0.76,"p":0.56,"v":-2.75},{"r":0.81,"p":0.56,"v":-2.7},{"r":0.86,"p":0.56,"v":-2.7},{"r":0.91,"p":0.56,"v":-2.7},{"r":0.96,"p":0.56,"v":-3.6},
{"r":0.01,"p":0.52,"v":-3.85},{"r":0.06,"p":0.52,"v":-3.6},{"r":0.11,"p":0.52,"v":-3.4},{"r":0.16,"p":0.52,"v":-3.25},{"r":0.21,"p":0.52,"v":-3.2},{"r":0.26,"p":0.52,"v":-3.15},{"r":0.31,"p":0.52,"v":-3.1},{"r":0.36,"p":0.52,"v":-3.05},{"r":0.41,"p":0.52,"v":-3.0},{"r":0.46,"p":0.52,"v":-2.95},{"r":0.51,"p":0.52,"v":-2.9},{"r":0.56,"p":0.52,"v":-2.9},{"r":0.61,"p":0.52,"v":-2.85},{"r":0.66,"p":0.52,"v":-2.8},{"r":0.71,"p":0.52,"v":-2.8},{"r":0.76,"p":0.52,"v":-2.75},{"r":0.81,"p":0.52,"v":-2.75},{"r":0.86,"p":0.52,"v":-2.7},{"r":0.91,"p":0.52,"v":-2.65},{"r":0.96,"p":0.52,"v":-3.1},
{"r":0.01,"p":0.48,"v":-3.85},{"r":0.06,"p":0.48,"v":-3.55},{"r":0.11,"p":0.48,"v":-3.45},{"r":0.16,"p":0.48,"v":-3.3},{"r":0.21,"p":0.48,"v":-3.2},{"r":0.26,"p":0.48,"v":-3.2},{"r":0.31,"p":0.48,"v":-3.15},{"r":0.36,"p":0.48,"v":-3.1},{"r":0.41,"p":0.48,"v":-3.05},{"r":0.46,"p":0.48,"v":-3.0},{"r":0.51,"p":0.48,"v":-2.95},{"r":0.56,"p":0.48,"v":-2.9},{"r":0.61,"p":0.48,"v":-2.9},{"r":0.66,"p":0.48,"v":-2.85},{"r":0.71,"p":0.48,"v":-2.8},{"r":0.76,"p":0.48,"v":-2.8},{"r":0.81,"p":0.48,"v":-2.75},{"r":0.86,"p":0.48,"v":-2.75},{"r":0.91,"p":0.48,"v":-2.7},{"r":0.96,"p":0.48,"v":-2.65},
{"r":0.01,"p":0.44,"v":-3.75},{"r":0.06,"p":0.44,"v":-3.6},{"r":0.11,"p":0.44,"v":-3.35},{"r":0.16,"p":0.44,"v":-3.3},{"r":0.21,"p":0.44,"v":-3.25},{"r":0.26,"p":0.44,"v":-3.2},{"r":0.31,"p":0.44,"v":-3.15},{"r":0.36,"p":0.44,"v":-3.1},{"r":0.41,"p":0.44,"v":-3.05},{"r":0.46,"p":0.44,"v":-3.0},{"r":0.51,"p":0.44,"v":-2.95},{"r":0.56,"p":0.44,"v":-2.95},{"r":0.61,"p":0.44,"v":-2.9},{"r":0.66,"p":0.44,"v":-2.85},{"r":0.71,"p":0.44,"v":-2.85},{"r":0.76,"p":0.44,"v":-2.8},{"r":0.81,"p":0.44,"v":-2.8},{"r":0.86,"p":0.44,"v":-2.75},{"r":0.91,"p":0.44,"v":-2.7},{"r":0.96,"p":0.44,"v":-2.65},
{"r":0.01,"p":0.4,"v":-3.8},{"r":0.06,"p":0.4,"v":-3.55},{"r":0.11,"p":0.4,"v":-3.4},{"r":0.16,"p":0.4,"v":-3.35},{"r":0.21,"p":0.4,"v":-3.3},{"r":0.26,"p":0.4,"v":-3.2},{"r":0.31,"p":0.4,"v":-3.2},{"r":0.36,"p":0.4,"v":-3.15},{"r":0.41,"p":0.4,"v":-3.1},{"r":0.46,"p":0.4,"v":-3.05},{"r":0.51,"p":0.4,"v":-3.0},{"r":0.56,"p":0.4,"v":-2.95},{"r":0.61,"p":0.4,"v":-2.9},{"r":0.66,"p":0.4,"v":-2.9},{"r":0.71,"p":0.4,"v":-2.85},{"r":0.76,"p":0.4,"v":-2.8},{"r":0.81,"p":0.4,"v":-2.8},{"r":0.86,"p":0.4,"v":-2.75},{"r":0.91,"p":0.4,"v":-2.7},{"r":0.96,"p":0.4,"v":-2.6},
{"r":0.01,"p":0.36,"v":-3.85},{"r":0.06,"p":0.36,"v":-3.45},{"r":0.11,"p":0.36,"v":-3.4},{"r":0.16,"p":0.36,"v":-3.35},{"r":0.21,"p":0.36,"v":-3.3},{"r":0.26,"p":0.36,"v":-3.25},{"r":0.31,"p":0.36,"v":-3.2},{"r":0.36,"p":0.36,"v":-3.15},{"r":0.41,"p":0.36,"v":-3.1},{"r":0.46,"p":0.36,"v":-3.05},{"r":0.51,"p":0.36,"v":-3.0},{"r":0.56,"p":0.36,"v":-2.95},{"r":0.61,"p":0.36,"v":-2.9},{"r":0.66,"p":0.36,"v":-2.9},{"r":0.71,"p":0.36,"v":-2.85},{"r":0.76,"p":0.36,"v":-2.8},{"r":0.81,"p":0.36,"v":-2.8},{"r":0.86,"p":0.36,"v":-2.75},{"r":0.91,"p":0.36,"v":-2.7},{"r":0.96,"p":0.36,"v":-2.6},
{"r":0.01,"p":0.32,"v":-3.8},{"r":0.06,"p":0.32,"v":-3.5},{"r":0.11,"p":0.32,"v":-3.55},{"r":0.16,"p":0.32,"v":-3.3},{"r":0.21,"p":0.32,"v":-3.25},{"r":0.26,"p":0.32,"v":-3.2},{"r":0.31,"p":0.32,"v":-3.15},{"r":0.36,"p":0.32,"v":-3.15},{"r":0.41,"p":0.32,"v":-3.1},{"r":0.46,"p":0.32,"v":-3.0},{"r":0.51,"p":0.32,"v":-3.0},{"r":0.56,"p":0.32,"v":-2.95},{"r":0.61,"p":0.32,"v":-2.9},{"r":0.66,"p":0.32,"v":-2.9},{"r":0.71,"p":0.32,"v":-2.85},{"r":0.76,"p":0.32,"v":-2.8},{"r":0.81,"p":0.32,"v":-2.8},{"r":0.86,"p":0.32,"v":-2.75},{"r":0.91,"p":0.32,"v":-2.7},{"r":0.96,"p":0.32,"v":-2.6},{"r":1.01,"p":0.32,"v":-3.6},
{"r":0.01,"p":0.28,"v":-3.85},{"r":0.06,"p":0.28,"v":-3.5},{"r":0.11,"p":0.28,"v":-3.4},{"r":0.16,"p":0.28,"v":-3.3},{"r":0.21,"p":0.28,"v":-3.25},{"r":0.26,"p":0.28,"v":-3.2},{"r":0.31,"p":0.28,"v":-3.15},{"r":0.36,"p":0.28,"v":-3.1},{"r":0.41,"p":0.28,"v":-3.05},{"r":0.46,"p":0.28,"v":-3.0},{"r":0.51,"p":0.28,"v":-2.95},{"r":0.56,"p":0.28,"v":-2.9},{"r":0.61,"p":0.28,"v":-2.9},{"r":0.66,"p":0.28,"v":-2.85},{"r":0.71,"p":0.28,"v":-2.8},{"r":0.76,"p":0.28,"v":-2.8},{"r":0.81,"p":0.28,"v":-2.75},{"r":0.86,"p":0.28,"v":-2.75},{"r":0.91,"p":0.28,"v":-2.7},{"r":0.96,"p":0.28,"v":-2.55},{"r":1.01,"p":0.28,"v":-3.1},
{"r":0.01,"p":0.24,"v":-3.7},{"r":0.06,"p":0.24,"v":-3.5},{"r":0.11,"p":0.24,"v":-3.4},{"r":0.16,"p":0.24,"v":-3.3},{"r":0.21,"p":0.24,"v":-3.2},{"r":0.26,"p":0.24,"v":-3.15},{"r":0.31,"p":0.24,"v":-3.1},{"r":0.36,"p":0.24,"v":-3.05},{"r":0.41,"p":0.24,"v":-3.0},{"r":0.46,"p":0.24,"v":-2.95},{"r":0.51,"p":0.24,"v":-2.9},{"r":0.56,"p":0.24,"v":-2.9},{"r":0.61,"p":0.24,"v":-2.85},{"r":0.66,"p":0.24,"v":-2.85},{"r":0.71,"p":0.24,"v":-2.8},{"r":0.76,"p":0.24,"v":-2.75},{"r":0.81,"p":0.24,"v":-2.75},{"r":0.86,"p":0.24,"v":-2.7},{"r":0.91,"p":0.24,"v":-2.65},{"r":0.96,"p":0.24,"v":-2.55},{"r":1.01,"p":0.24,"v":-2.7},
{"r":0.01,"p":0.2,"v":-3.8},{"r":0.06,"p":0.2,"v":-3.45},{"r":0.11,"p":0.2,"v":-3.35},{"r":0.16,"p":0.2,"v":-3.25},{"r":0.21,"p":0.2,"v":-3.15},{"r":0.26,"p":0.2,"v":-3.1},{"r":0.31,"p":0.2,"v":-3.05},{"r":0.36,"p":0.2,"v":-3.0},{"r":0.41,"p":0.2,"v":-2.95},{"r":0.46,"p":0.2,"v":-2.9},{"r":0.51,"p":0.2,"v":-2.9},{"r":0.56,"p":0.2,"v":-2.85},{"r":0.61,"p":0.2,"v":-2.8},{"r":0.66,"p":0.2,"v":-2.8},{"r":0.71,"p":0.2,"v":-2.75},{"r":0.76,"p":0.2,"v":-2.75},{"r":0.81,"p":0.2,"v":-2.7},{"r":0.86,"p":0.2,"v":-2.65},{"r":0.91,"p":0.2,"v":-2.6},{"r":0.96,"p":0.2,"v":-2.5},{"r":1.01,"p":0.2,"v":-2.5},
{"r":0.01,"p":0.16,"v":-3.6},{"r":0.06,"p":0.16,"v":-3.4},{"r":0.11,"p":0.16,"v":-3.3},{"r":0.16,"p":0.16,"v":-3.2},{"r":0.21,"p":0.16,"v":-3.1},{"r":0.26,"p":0.16,"v":-3.05},{"r":0.31,"p":0.16,"v":-3.0},{"r":0.36,"p":0.16,"v":-2.95},{"r":0.41,"p":0.16,"v":-2.9},{"r":0.46,"p":0.16,"v":-2.85},{"r":0.51,"p":0.16,"v":-2.8},{"r":0.56,"p":0.16,"v":-2.8},{"r":0.61,"p":0.16,"v":-2.75},{"r":0.66,"p":0.16,"v":-2.7},{"r":0.71,"p":0.16,"v":-2.7},{"r":0.76,"p":0.16,"v":-2.65},{"r":0.81,"p":0.16,"v":-2.6},{"r":0.86,"p":0.16,"v":-2.55},{"r":0.91,"p":0.16,"v":-2.5},{"r":0.96,"p":0.16,"v":-2.4},{"r":1.01,"p":0.16,"v":-2.35},
{"r":0.01,"p":0.12,"v":-3.5},{"r":0.06,"p":0.12,"v":-3.35},{"r":0.11,"p":0.12,"v":-3.2},{"r":0.16,"p":0.12,"v":-3.1},{"r":0.21,"p":0.12,"v":-3.0},{"r":0.26,"p":0.12,"v":-2.95},{"r":0.31,"p":0.12,"v":-2.9},{"r":0.36,"p":0.12,"v":-2.85},{"r":0.41,"p":0.12,"v":-2.8},{"r":0.46,"p":0.12,"v":-2.75},{"r":0.51,"p":0.12,"v":-2.7},{"r":0.56,"p":0.12,"v":-2.7},{"r":0.61,"p":0.12,"v":-2.65},{"r":0.66,"p":0.12,"v":-2.6},{"r":0.71,"p":0.12,"v":-2.55},{"r":0.76,"p":0.12,"v":-2.55},{"r":0.81,"p":0.12,"v":-2.5},{"r":0.86,"p":0.12,"v":-2.45},{"r":0.91,"p":0.12,"v":-2.45},{"r":0.96,"p":0.12,"v":-2.3},{"r":1.01,"p":0.12,"v":-2.2},{"r":1.06,"p":0.12,"v":-3.45},
{"r":0.01,"p":0.08,"v":-3.4},{"r":0.06,"p":0.08,"v":-3.3},{"r":0.11,"p":0.08,"v":-3.1},{"r":0.16,"p":0.08,"v":-3.0},{"r":0.21,"p":0.08,"v":-2.9},{"r":0.26,"p":0.08,"v":-2.85},{"r":0.31,"p":0.08,"v":-2.8},{"r":0.36,"p":0.08,"v":-2.75},{"r":0.41,"p":0.08,"v":-2.7},{"r":0.46,"p":0.08,"v":-2.65},{"r":0.51,"p":0.08,"v":-2.6},{"r":0.56,"p":0.08,"v":-2.6},{"r":0.61,"p":0.08,"v":-2.55},{"r":0.66,"p":0.08,"v":-2.5},{"r":0.71,"p":0.08,"v":-2.5},{"r":0.76,"p":0.08,"v":-2.45},{"r":0.81,"p":0.08,"v":-2.4},{"r":0.86,"p":0.08,"v":-2.4},{"r":0.91,"p":0.08,"v":-2.35},{"r":0.96,"p":0.08,"v":-2.25},{"r":1.01,"p":0.08,"v":-2.1},{"r":1.06,"p":0.08,"v":-2.6},
{"r":0.01,"p":0.04,"v":-3.35},{"r":0.06,"p":0.04,"v":-3.2},{"r":0.11,"p":0.04,"v":-3.0},{"r":0.16,"p":0.04,"v":-2.85},{"r":0.21,"p":0.04,"v":-2.8},{"r":0.26,"p":0.04,"v":-2.75},{"r":0.31,"p":0.04,"v":-2.7},{"r":0.36,"p":0.04,"v":-2.65},{"r":0.41,"p":0.04,"v":-2.6},{"r":0.46,"p":0.04,"v":-2.55},{"r":0.51,"p":0.04,"v":-2.5},{"r":0.56,"p":0.04,"v":-2.45},{"r":0.61,"p":0.04,"v":-2.45},{"r":0.66,"p":0.04,"v":-2.4},{"r":0.71,"p":0.04,"v":-2.35},{"r":0.76,"p":0.04,"v":-2.35},{"r":0.81,"p":0.04,"v":-2.3},{"r":0.86,"p":0.04,"v":-2.3},{"r":0.91,"p":0.04,"v":-2.25},{"r":0.96,"p":0.04,"v":-2.15},{"r":1.01,"p":0.04,"v":-2.0},{"r":1.06,"p":0.04,"v":-1.85},
{"r":0.01,"p":0.0,"v":-3.1},{"r":0.06,"p":0.0,"v":-2.95},{"r":0.11,"p":0.0,"v":-2.85},{"r":0.16,"p":0.0,"v":-2.75},{"r":0.21,"p":0.0,"v":-2.65},{"r":0.26,"p":0.0,"v":-2.6},{"r":0.31,"p":0.0,"v":-2.55},{"r":0.36,"p":0.0,"v":-2.5},{"r":0.41,"p":0.0,"v":-2.45},{"r":0.46,"p":0.0,"v":-2.4},{"r":0.51,"p":0.0,"v":-2.35},{"r":0.56,"p":0.0,"v":-2.3},{"r":0.61,"p":0.0,"v":-2.3},{"r":0.66,"p":0.0,"v":-2.25},{"r":0.71,"p":0.0,"v":-2.2},{"r":0.76,"p":0.0,"v":-2.2},{"r":0.81,"p":0.0,"v":-2.15},{"r":0.86,"p":0.0,"v":-2.15},{"r":0.91,"p":0.0,"v":-2.1},{"r":0.96,"p":0.0,"v":-2.05},{"r":1.01,"p":0.0,"v":-1.9},{"r":1.06,"p":0.0,"v":-1.8},{"r":1.11,"p":0.0,"v":-2.05}
],
"z3":[
{"r":0.01,"p":0.96,"v":-2.05},{"r":0.06,"p":0.96,"v":-2.05},{"r":0.11,"p":0.96,"v":-2.0},{"r":0.16,"p":0.96,"v":-2.3},{"r":0.21,"p":0.96,"v":-2.75},{"r":0.26,"p":0.96,"v":-3.0},{"r":0.31,"p":0.96,"v":-3.45},{"r":0.36,"p":0.96,"v":-3.9},
{"r":0.01,"p":0.92,"v":-2.35},{"r":0.06,"p":0.92,"v":-2.1},{"r":0.11,"p":0.92,"v":-1.95},{"r":0.16,"p":0.92,"v":-1.95},{"r":0.21,"p":0.92,"v":-2.1},{"r":0.26,"p":0.92,"v":-2.3},{"r":0.31,"p":0.92,"v":-2.6},{"r":0.36,"p":0.92,"v":-2.85},{"r":0.41,"p":0.92,"v":-3.0},{"r":0.46,"p":0.92,"v":-3.25},{"r":0.51,"p":0.92,"v":-3.7},
{"r":0.01,"p":0.88,"v":-2.65},{"r":0.06,"p":0.88,"v":-2.55},{"r":0.11,"p":0.88,"v":-2.5},{"r":0.16,"p":0.88,"v":-2.4},{"r":0.21,"p":0.88,"v":-2.3},{"r":0.26,"p":0.88,"v":-2.25},{"r":0.31,"p":0.88,"v":-2.3},{"r":0.36,"p":0.88,"v":-2.45},{"r":0.41,"p":0.88,"v":-2.65},{"r":0.46,"p":0.88,"v":-2.85},{"r":0.51,"p":0.88,"v":-3.1},{"r":0.56,"p":0.88,"v":-3.3},{"r":0.61,"p":0.88,"v":-3.5},{"r":0.66,"p":0.88,"v":-3.6},{"r":0.71,"p":0.88,"v":-3.65},
{"r":0.01,"p":0.84,"v":-2.95},{"r":0.06,"p":0.84,"v":-2.85},{"r":0.11,"p":0.84,"v":-2.8},{"r":0.16,"p":0.84,"v":-2.7},{"r":0.21,"p":0.84,"v":-2.6},{"r":0.26,"p":0.84,"v":-2.55},{"r":0.31,"p":0.84,"v":-2.45},{"r":0.36,"p":0.84,"v":-2.4},{"r":0.41,"p":0.84,"v":-2.45},{"r":0.46,"p":0.84,"v":-2.55},{"r":0.51,"p":0.84,"v":-2.7},{"r":0.56,"p":0.84,"v":-2.85},{"r":0.61,"p":0.84,"v":-3.0},{"r":0.66,"p":0.84,"v":-3.15},{"r":0.71,"p":0.84,"v":-3.35},{"r":0.76,"p":0.84,"v":-3.45},
{"r":0.01,"p":0.8,"v":-3.15},{"r":0.06,"p":0.8,"v":-3.05},{"r":0.11,"p":0.8,"v":-2.95},{"r":0.16,"p":0.8,"v":-2.85},{"r":0.21,"p":0.8,"v":-2.8},{"r":0.26,"p":0.8,"v":-2.7},{"r":0.31,"p":0.8,"v":-2.65},{"r":0.36,"p":0.8,"v":-2.55},{"r":0.41,"p":0.8,"v":-2.45},{"r":0.46,"p":0.8,"v":-2.45},{"r":0.51,"p":0.8,"v":-2.55},{"r":0.56,"p":0.8,"v":-2.65},{"r":0.61,"p":0.8,"v":-2.75},{"r":0.66,"p":0.8,"v":-2.85},{"r":0.71,"p":0.8,"v":-3.0},{"r":0.76,"p":0.8,"v":-3.15},{"r":0.81,"p":0.8,"v":-3.4},{"r":0.86,"p":0.8,"v":-3.75},
{"r":0.01,"p":0.76,"v":-3.4},{"r":0.06,"p":0.76,"v":-3.2},{"r":0.11,"p":0.76,"v":-3.1},{"r":0.16,"p":0.76,"v":-3.0},{"r":0.21,"p":0.76,"v":-2.95},{"r":0.26,"p":0.76,"v":-2.85},{"r":0.31,"p":0.76,"v":-2.8},{"r":0.36,"p":0.76,"v":-2.7},{"r":0.41,"p":0.76,"v":-2.65},{"r":0.46,"p":0.76,"v":-2.6},{"r":0.51,"p":0.76,"v":-2.6},{"r":0.56,"p":0.76,"v":-2.65},{"r":0.61,"p":0.76,"v":-2.7},{"r":0.66,"p":0.76,"v":-2.75},{"r":0.71,"p":0.76,"v":-2.85},{"r":0.76,"p":0.76,"v":-2.95},{"r":0.81,"p":0.76,"v":-3.1},{"r":0.86,"p":0.76,"v":-3.2},
{"r":0.01,"p":0.72,"v":-3.55},{"r":0.06,"p":0.72,"v":-3.3},{"r":0.11,"p":0.72,"v":-3.2},{"r":0.16,"p":0.72,"v":-3.1},{"r":0.21,"p":0.72,"v":-3.0},{"r":0.26,"p":0.72,"v":-2.95},{"r":0.31,"p":0.72,"v":-2.9},{"r":0.36,"p":0.72,"v":-2.85},{"r":0.41,"p":0.72,"v":-2.75},{"r":0.46,"p":0.72,"v":-2.7},{"r":0.51,"p":0.72,"v":-2.65},{"r":0.56,"p":0.72,"v":-2.65},{"r":0.61,"p":0.72,"v":-2.65},{"r":0.66,"p":0.72,"v":-2.7},{"r":0.71,"p":0.72,"v":-2.75},{"r":0.76,"p":0.72,"v":-2.85},{"r":0.81,"p":0.72,"v":-2.95},{"r":0.86,"p":0.72,"v":-3.1},{"r":0.91,"p":0.72,"v":-3.85},
{"r":0.01,"p":0.68,"v":-3.6},{"r":0.06,"p":0.68,"v":-3.35},{"r":0.11,"p":0.68,"v":-3.2},{"r":0.16,"p":0.68,"v":-3.15},{"r":0.21,"p":0.68,"v":-3.05},{"r":0.26,"p":0.68,"v":-3.0},{"r":0.31,"p":0.68,"v":-2.9},{"r":0.36,"p":0.68,"v":-2.85},{"r":0.41,"p":0.68,"v":-2.8},{"r":0.46,"p":0.68,"v":-2.75},{"r":0.51,"p":0.68,"v":-2.7},{"r":0.56,"p":0.68,"v":-2.65},{"r":0.61,"p":0.68,"v":-2.6},{"r":0.66,"p":0.68,"v":-2.65},{"r":0.71,"p":0.68,"v":-2.7},{"r":0.76,"p":0.68,"v":-2.75},{"r":0.81,"p":0.68,"v":-2.85},{"r":0.86,"p":0.68,"v":-2.95},{"r":0.91,"p":0.68,"v":-3.6},
{"r":0.01,"p":0.64,"v":-3.6},{"r":0.06,"p":0.64,"v":-3.35},{"r":0.11,"p":0.64,"v":-3.25},{"r":0.16,"p":0.64,"v":-3.2},{"r":0.21,"p":0.64,"v":-3.1},{"r":0.26,"p":0.64,"v":-3.0},{"r":0.31,"p":0.64,"v":-2.95},{"r":0.36,"p":0.64,"v":-2.9},{"r":0.41,"p":0.64,"v":-2.85},{"r":0.46,"p":0.64,"v":-2.8},{"r":0.51,"p":0.64,"v":-2.75},{"r":0.56,"p":0.64,"v":-2.7},{"r":0.61,"p":0.64,"v":-2.65},{"r":0.66,"p":0.64,"v":-2.6},{"r":0.71,"p":0.64,"v":-2.65},{"r":0.76,"p":0.64,"v":-2.7},{"r":0.81,"p":0.64,"v":-2.75},{"r":0.86,"p":0.64,"v":-2.85},{"r":0.91,"p":0.64,"v":-3.3},
{"r":0.01,"p":0.6,"v":-3.7},{"r":0.06,"p":0.6,"v":-3.3},{"r":0.11,"p":0.6,"v":-3.2},{"r":0.16,"p":0.6,"v":-3.15},{"r":0.21,"p":0.6,"v":-3.1},{"r":0.26,"p":0.6,"v":-3.05},{"r":0.31,"p":0.6,"v":-3.0},{"r":0.36,"p":0.6,"v":-2.9},{"r":0.41,"p":0.6,"v":-2.85},{"r":0.46,"p":0.6,"v":-2.8},{"r":0.51,"p":0.6,"v":-2.75},{"r":0.56,"p":0.6,"v":-2.7},{"r":0.61,"p":0.6,"v":-2.7},{"r":0.66,"p":0.6,"v":-2.65},{"r":0.71,"p":0.6,"v":-2.65},{"r":0.76,"p":0.6,"v":-2.7},{"r":0.81,"p":0.6,"v":-2.75},{"r":0.86,"p":0.6,"v":-2.8},{"r":0.91,"p":0.6,"v":-2.9},
{"r":0.01,"p":0.56,"v":-3.9},{"r":0.06,"p":0.56,"v":-3.4},{"r":0.11,"p":0.56,"v":-3.35},{"r":0.16,"p":0.56,"v":-3.2},{"r":0.21,"p":0.56,"v":-3.15},{"r":0.26,"p":0.56,"v":-3.1},{"r":0.31,"p":0.56,"v":-3.05},{"r":0.36,"p":0.56,"v":-3.0},{"r":0.41,"p":0.56,"v":-2.95},{"r":0.46,"p":0.56,"v":-2.9},{"r":0.51,"p":0.56,"v":-2.85},{"r":0.56,"p":0.56,"v":-2.8},{"r":0.61,"p":0.56,"v":-2.75},{"r":0.66,"p":0.56,"v":-2.75},{"r":0.71,"p":0.56,"v":-2.7},{"r":0.76,"p":0.56,"v":-2.7},{"r":0.81,"p":0.56,"v":-2.7},{"r":0.86,"p":0.56,"v":-2.75},{"r":0.91,"p":0.56,"v":-2.8},
{"r":0.06,"p":0.52,"v":-3.35},{"r":0.11,"p":0.52,"v":-3.3},{"r":0.16,"p":0.52,"v":-3.2},{"r":0.21,"p":0.52,"v":-3.2},{"r":0.26,"p":0.52,"v":-3.15},{"r":0.31,"p":0.52,"v":-3.1},{"r":0.36,"p":0.52,"v":-3.05},{"r":0.41,"p":0.52,"v":-3.0},{"r":0.46,"p":0.52,"v":-2.95},{"r":0.51,"p":0.52,"v":-2.9},{"r":0.56,"p":0.52,"v":-2.85},{"r":0.61,"p":0.52,"v":-2.8},{"r":0.66,"p":0.52,"v":-2.8},{"r":0.71,"p":0.52,"v":-2.75},{"r":0.76,"p":0.52,"v":-2.75},{"r":0.81,"p":0.52,"v":-2.7},{"r":0.86,"p":0.52,"v":-2.7},{"r":0.91,"p":0.52,"v":-2.75},{"r":0.96,"p":0.52,"v":-3.7},
{"r":0.01,"p":0.48,"v":-3.65},{"r":0.06,"p":0.48,"v":-3.6},{"r":0.11,"p":0.48,"v":-3.35},{"r":0.16,"p":0.48,"v":-3.25},{"r":0.21,"p":0.48,"v":-3.2},{"r":0.26,"p":0.48,"v":-3.15},{"r":0.31,"p":0.48,"v":-3.1},{"r":0.36,"p":0.48,"v":-3.05},{"r":0.41,"p":0.48,"v":-3.0},{"r":0.46,"p":0.48,"v":-2.95},{"r":0.51,"p":0.48,"v":-2.9},{"r":0.56,"p":0.48,"v":-2.9},{"r":0.61,"p":0.48,"v":-2.85},{"r":0.66,"p":0.48,"v":-2.8},{"r":0.71,"p":0.48,"v":-2.8},{"r":0.76,"p":0.48,"v":-2.75},{"r":0.81,"p":0.48,"v":-2.75},{"r":0.86,"p":0.48,"v":-2.7},{"r":0.91,"p":0.48,"v":-2.7},{"r":0.96,"p":0.48,"v":-3.35},
{"r":0.01,"p":0.44,"v":-3.7},{"r":0.06,"p":0.44,"v":-3.75},{"r":0.11,"p":0.44,"v":-3.35},{"r":0.16,"p":0.44,"v":-3.3},{"r":0.21,"p":0.44,"v":-3.2},{"r":0.26,"p":0.44,"v":-3.15},{"r":0.31,"p":0.44,"v":-3.1},{"r":0.36,"p":0.44,"v":-3.1},{"r":0.41,"p":0.44,"v":-3.05},{"r":0.46,"p":0.44,"v":-3.0},{"r":0.51,"p":0.44,"v":-2.95},{"r":0.56,"p":0.44,"v":-2.9},{"r":0.61,"p":0.44,"v":-2.9},{"r":0.66,"p":0.44,"v":-2.85},{"r":0.71,"p":0.44,"v":-2.8},{"r":0.76,"p":0.44,"v":-2.8},{"r":0.81,"p":0.44,"v":-2.75},{"r":0.86,"p":0.44,"v":-2.75},{"r":0.91,"p":0.44,"v":-2.7},{"r":0.96,"p":0.44,"v":-2.75},
{"r":0.01,"p":0.4,"v":-3.95},{"r":0.06,"p":0.4,"v":-3.45},{"r":0.11,"p":0.4,"v":-3.4},{"r":0.16,"p":0.4,"v":-3.35},{"r":0.21,"p":0.4,"v":-3.25},{"r":0.26,"p":0.4,"v":-3.2},{"r":0.31,"p":0.4,"v":-3.15},{"r":0.36,"p":0.4,"v":-3.1},{"r":0.41,"p":0.4,"v":-3.05},{"r":0.46,"p":0.4,"v":-3.0},{"r":0.51,"p":0.4,"v":-3.0},{"r":0.56,"p":0.4,"v":-2.95},{"r":0.61,"p":0.4,"v":-2.9},{"r":0.66,"p":0.4,"v":-2.9},{"r":0.71,"p":0.4,"v":-2.85},{"r":0.76,"p":0.4,"v":-2.8},{"r":0.81,"p":0.4,"v":-2.8},{"r":0.86,"p":0.4,"v":-2.75},{"r":0.91,"p":0.4,"v":-2.7},{"r":0.96,"p":0.4,"v":-2.7},
{"r":0.06,"p":0.36,"v":-3.4},{"r":0.11,"p":0.36,"v":-3.35},{"r":0.16,"p":0.36,"v":-3.3},{"r":0.21,"p":0.36,"v":-3.25},{"r":0.26,"p":0.36,"v":-3.2},{"r":0.31,"p":0.36,"v":-3.3},{"r":0.36,"p":0.36,"v":-3.15},{"r":0.41,"p":0.36,"v":-3.1},{"r":0.46,"p":0.36,"v":-3.05},{"r":0.51,"p":0.36,"v":-3.0},{"r":0.56,"p":0.36,"v":-2.95},{"r":0.61,"p":0.36,"v":-2.95},{"r":0.66,"p":0.36,"v":-2.9},{"r":0.71,"p":0.36,"v":-2.85},{"r":0.76,"p":0.36,"v":-2.85},{"r":0.81,"p":0.36,"v":-2.8},{"r":0.86,"p":0.36,"v":-2.75},{"r":0.91,"p":0.36,"v":-2.7},{"r":0.96,"p":0.36,"v":-2.65},
{"r":0.01,"p":0.32,"v":-3.7},{"r":0.06,"p":0.32,"v":-3.5},{"r":0.11,"p":0.32,"v":-3.45},{"r":0.16,"p":0.32,"v":-3.3},{"r":0.21,"p":0.32,"v":-3.25},{"r":0.26,"p":0.32,"v":-3.2},{"r":0.31,"p":0.32,"v":-3.15},{"r":0.36,"p":0.32,"v":-3.2},{"r":0.41,"p":0.32,"v":-3.35},{"r":0.46,"p":0.32,"v":-3.1},{"r":0.51,"p":0.32,"v":-3.05},{"r":0.56,"p":0.32,"v":-3.0},{"r":0.61,"p":0.32,"v":-2.95},{"r":0.66,"p":0.32,"v":-2.9},{"r":0.71,"p":0.32,"v":-2.85},{"r":0.76,"p":0.32,"v":-2.85},{"r":0.81,"p":0.32,"v":-2.8},{"r":0.86,"p":0.32,"v":-2.75},{"r":0.91,"p":0.32,"v":-2.7},{"r":0.96,"p":0.32,"v":-2.6},
{"r":0.01,"p":0.28,"v":-3.75},{"r":0.06,"p":0.28,"v":-3.4},{"r":0.11,"p":0.28,"v":-3.3},{"r":0.16,"p":0.28,"v":-3.25},{"r":0.21,"p":0.28,"v":-3.15},{"r":0.26,"p":0.28,"v":-3.1},{"r":0.31,"p":0.28,"v":-3.05},{"r":0.36,"p":0.28,"v":-3.0},{"r":0.41,"p":0.28,"v":-3.0},{"r":0.46,"p":0.28,"v":-2.95},{"r":0.51,"p":0.28,"v":-2.9},{"r":0.56,"p":0.28,"v":-2.9},{"r":0.61,"p":0.28,"v":-2.85},{"r":0.66,"p":0.28,"v":-2.85},{"r":0.71,"p":0.28,"v":-2.8},{"r":0.76,"p":0.28,"v":-2.75},{"r":0.81,"p":0.28,"v":-2.75},{"r":0.86,"p":0.28,"v":-2.7},{"r":0.91,"p":0.28,"v":-2.65},{"r":0.96,"p":0.28,"v":-2.55},{"r":1.01,"p":0.28,"v":-3.45},
{"r":0.01,"p":0.24,"v":-3.85},{"r":0.06,"p":0.24,"v":-3.5},{"r":0.11,"p":0.24,"v":-3.3},{"r":0.16,"p":0.24,"v":-3.2},{"r":0.21,"p":0.24,"v":-3.15},{"r":0.26,"p":0.24,"v":-3.1},{"r":0.31,"p":0.24,"v":-3.05},{"r":0.36,"p":0.24,"v":-3.0},{"r":0.41,"p":0.24,"v":-2.95},{"r":0.46,"p":0.24,"v":-2.9},{"r":0.51,"p":0.24,"v":-2.9},{"r":0.56,"p":0.24,"v":-2.85},{"r":0.61,"p":0.24,"v":-2.85},{"r":0.66,"p":0.24,"v":-2.8},{"r":0.71,"p":0.24,"v":-2.75},{"r":0.76,"p":0.24,"v":-2.75},{"r":0.81,"p":0.24,"v":-2.7},{"r":0.86,"p":0.24,"v":-2.65},{"r":0.91,"p":0.24,"v":-2.6},{"r":0.96,"p":0.24,"v":-2.5},{"r":1.01,"p":0.24,"v":-3.0},
{"r":0.01,"p":0.2,"v":-3.7},{"r":0.06,"p":0.2,"v":-3.45},{"r":0.11,"p":0.2,"v":-3.25},{"r":0.16,"p":0.2,"v":-3.15},{"r":0.21,"p":0.2,"v":-3.1},{"r":0.26,"p":0.2,"v":-3.05},{"r":0.31,"p":0.2,"v":-3.0},{"r":0.36,"p":0.2,"v":-2.95},{"r":0.41,"p":0.2,"v":-2.9},{"r":0.46,"p":0.2,"v":-2.85},{"r":0.51,"p":0.2,"v":-2.85},{"r":0.56,"p":0.2,"v":-2.8},{"r":0.61,"p":0.2,"v":-2.8},{"r":0.66,"p":0.2,"v":-2.75},{"r":0.71,"p":0.2,"v":-2.7},{"r":0.76,"p":0.2,"v":-2.7},{"r":0.81,"p":0.2,"v":-2.65},{"r":0.86,"p":0.2,"v":-2.6},{"r":0.91,"p":0.2,"v":-2.55},{"r":0.96,"p":0.2,"v":-2.45},{"r":1.01,"p":0.2,"v":-2.65},
{"r":0.01,"p":0.16,"v":-3.7},{"r":0.06,"p":0.16,"v":-3.4},{"r":0.11,"p":0.16,"v":-3.15},{"r":0.16,"p":0.16,"v":-3.05},{"r":0.21,"p":0.16,"v":-3.0},{"r":0.26,"p":0.16,"v":-2.95},{"r":0.31,"p":0.16,"v":-2.9},{"r":0.36,"p":0.16,"v":-2.9},{"r":0.41,"p":0.16,"v":-2.85},{"r":0.46,"p":0.16,"v":-2.8},{"r":0.51,"p":0.16,"v":-2.75},{"r":0.56,"p":0.16,"v":-2.75},{"r":0.61,"p":0.16,"v":-2.7},{"r":0.66,"p":0.16,"v":-2.65},{"r":0.71,"p":0.16,"v":-2.6},{"r":0.76,"p":0.16,"v":-2.6},{"r":0.81,"p":0.16,"v":-2.55},{"r":0.86,"p":0.16,"v":-2.5},{"r":0.91,"p":0.16,"v":-2.45},{"r":0.96,"p":0.16,"v":-2.35},{"r":1.01,"p":0.16,"v":-2.45},
{"r":0.01,"p":0.12,"v":-3.7},{"r":0.06,"p":0.12,"v":-3.35},{"r":0.11,"p":0.12,"v":-3.05},{"r":0.16,"p":0.12,"v":-2.95},{"r":0.21,"p":0.12,"v":-2.9},{"r":0.26,"p":0.12,"v":-2.85},{"r":0.31,"p":0.12,"v":-2.8},{"r":0.36,"p":0.12,"v":-2.75},{"r":0.41,"p":0.12,"v":-2.7},{"r":0.46,"p":0.12,"v":-2.65},{"r":0.51,"p":0.12,"v":-2.6},{"r":0.56,"p":0.12,"v":-2.6},{"r":0.61,"p":0.12,"v":-2.55},{"r":0.66,"p":0.12,"v":-2.5},{"r":0.71,"p":0.12,"v":-2.5},{"r":0.76,"p":0.12,"v":-2.45},{"r":0.81,"p":0.12,"v":-2.4},{"r":0.86,"p":0.12,"v":-2.4},{"r":0.91,"p":0.12,"v":-2.35},{"r":0.96,"p":0.12,"v":-2.25},{"r":1.01,"p":0.12,"v":-2.25},{"r":1.06,"p":0.12,"v":-3.85},
{"r":0.01,"p":0.08,"v":-3.65},{"r":0.06,"p":0.08,"v":-3.1},{"r":0.11,"p":0.08,"v":-2.95},{"r":0.16,"p":0.08,"v":-2.85},{"r":0.21,"p":0.08,"v":-2.8},{"r":0.26,"p":0.08,"v":-2.7},{"r":0.31,"p":0.08,"v":-2.65},{"r":0.36,"p":0.08,"v":-2.6},{"r":0.41,"p":0.08,"v":-2.55},{"r":0.46,"p":0.08,"v":-2.5},{"r":0.51,"p":0.08,"v":-2.5},{"r":0.56,"p":0.08,"v":-2.45},{"r":0.61,"p":0.08,"v":-2.4},{"r":0.66,"p":0.08,"v":-2.4},{"r":0.71,"p":0.08,"v":-2.35},{"r":0.76,"p":0.08,"v":-2.3},{"r":0.81,"p":0.08,"v":-2.3},{"r":0.86,"p":0.08,"v":-2.25},{"r":0.91,"p":0.08,"v":-2.2},{"r":0.96,"p":0.08,"v":-2.15},{"r":1.01,"p":0.08,"v":-2.2},{"r":1.06,"p":0.08,"v":-2.65},
{"r":0.01,"p":0.04,"v":-3.45},{"r":0.06,"p":0.04,"v":-3.0},{"r":0.11,"p":0.04,"v":-2.8},{"r":0.16,"p":0.04,"v":-2.7},{"r":0.21,"p":0.04,"v":-2.6},{"r":0.26,"p":0.04,"v":-2.55},{"r":0.31,"p":0.04,"v":-2.5},{"r":0.36,"p":0.04,"v":-2.45},{"r":0.41,"p":0.04,"v":-2.4},{"r":0.46,"p":0.04,"v":-2.35},{"r":0.51,"p":0.04,"v":-2.3},{"r":0.56,"p":0.04,"v":-2.3},{"r":0.61,"p":0.04,"v":-2.25},{"r":0.66,"p":0.04,"v":-2.2},{"r":0.71,"p":0.04,"v":-2.2},{"r":0.76,"p":0.04,"v":-2.15},{"r":0.81,"p":0.04,"v":-2.1},{"r":0.86,"p":0.04,"v":-2.1},{"r":0.91,"p":0.04,"v":-2.05},{"r":0.96,"p":0.04,"v":-2.0},{"r":1.01,"p":0.04,"v":-2.05},{"r":1.06,"p":0.04,"v":-2.0},
{"r":0.01,"p":0.0,"v":-3.05},{"r":0.06,"p":0.0,"v":-2.9},{"r":0.11,"p":0.0,"v":-2.75},{"r":0.16,"p":0.0,"v":-2.6},{"r":0.21,"p":0.0,"v":-2.5},{"r":0.26,"p":0.0,"v":-2.45},{"r":0.31,"p":0.0,"v":-2.35},{"r":0.36,"p":0.0,"v":-2.3},{"r":0.41,"p":0.0,"v":-2.25},{"r":0.46,"p":0.0,"v":-2.2},{"r":0.51,"p":0.0,"v":-2.15},{"r":0.56,"p":0.0,"v":-2.1},{"r":0.61,"p":0.0,"v":-2.1},{"r":0.66,"p":0.0,"v":-2.05},{"r":0.71,"p":0.0,"v":-2.05},{"r":0.76,"p":0.0,"v":-2.0},{"r":0.81,"p":0.0,"v":-2.0},{"r":0.86,"p":0.0,"v":-1.95},{"r":0.91,"p":0.0,"v":-1.95},{"r":0.96,"p":0.0,"v":-1.9},{"r":1.01,"p":0.0,"v":-1.85},{"r":1.06,"p":0.0,"v":-1.8},{"r":1.11,"p":0.0,"v":-2.05}
]
},
"spacing":37.7,
"bounds":"flush",
"resolve":{"scale":{"color":"independent"},"legend":{"color":"independent"}},
"hconcat":[
{"width":204,"height":204,"resolve":{"axis":{"x":"independent","y":"independent"}},
"layer":[
{"data":{"name":"z1"},"mark":{"type":"rect","binSpacing":0,"x2Offset":-1,"y2Offset":1},
"encoding":{
"x":{"field":"r","type":"quantitative","bin":{"binned":true,"step":0.05},"scale":{"domain":[0.01,1.2],"nice":false,"zero":false},"axis":{"values":[0.2,0.4,0.6,0.8,1.0,1.2],"format":".1f","title":"R/Rλ","titlePadding":1}},
"y":{"field":"p","type":"quantitative","bin":{"binned":true,"step":0.04},"scale":{"domain":[0,1],"nice":false,"zero":false},"axis":{"values":[0,0.2,0.4,0.6,0.8,1.0],"format":".1f","title":"pₘₑₘ","titlePadding":3}},
"color":{"field":"v","type":"quantitative","scale":{"domain":[-4.0,-3.7275,-3.455,-3.1825,-2.91,-2.6375,-2.365,-2.0925,-1.82],"range":["#8000ff","#4062fa","#00b4eb","#40ebd4","#80ffb4","#bfeb8e","#ffb462","#ff6232","#ff0000"],"interpolate":"rgb"},"legend":{"title":"log Nₘₑₘ/Nₜₒₜ","values":[-4,-3.5,-3,-2.5,-2],"labelExpr":"replace(format(datum.value,'.1f'),'-','−')"}}
}},
{"data":{"values":[{"p":0.8}]},"mark":{"type":"rule","strokeDash":[4,3],"color":"#8a8a8a","strokeWidth":1},
"encoding":{"y":{"field":"p","type":"quantitative","scale":{"domain":[0,1],"nice":false,"zero":false},"axis":null}}},
{"data":{"values":[{"r":0.13,"p":0.12,"t":"z: [0.100 − 0.200]"}]},"mark":{"type":"text","align":"left","baseline":"middle","font":"Liberation Serif","fontSize":14,"color":"black"},
"encoding":{
"x":{"field":"r","type":"quantitative","scale":{"domain":[0.01,1.2],"nice":false,"zero":false},"axis":{"orient":"top","labels":false,"title":null,"values":[0.2,0.4,0.6,0.8,1.0,1.2]}},
"y":{"field":"p","type":"quantitative","scale":{"domain":[0,1],"nice":false,"zero":false},"axis":{"orient":"right","labels":false,"title":null,"values":[0,0.2,0.4,0.6,0.8,1.0]}},
"text":{"field":"t"}}}
]},
{"width":204,"height":204,"resolve":{"axis":{"x":"independent","y":"independent"}},
"layer":[
{"data":{"name":"z2"},"mark":{"type":"rect","binSpacing":0,"x2Offset":-1,"y2Offset":1},
"encoding":{
"x":{"field":"r","type":"quantitative","bin":{"binned":true,"step":0.05},"scale":{"domain":[0.01,1.2],"nice":false,"zero":false},"axis":{"values":[0.2,0.4,0.6,0.8,1.0,1.2],"format":".1f","title":"R/Rλ","titlePadding":1}},
"y":{"field":"p","type":"quantitative","bin":{"binned":true,"step":0.04},"scale":{"domain":[0,1],"nice":false,"zero":false},"axis":{"values":[0,0.2,0.4,0.6,0.8,1.0],"format":".1f","title":"pₘₑₘ","titlePadding":3}},
"color":{"field":"v","type":"quantitative","scale":{"domain":[-4.0,-3.7275,-3.455,-3.1825,-2.91,-2.6375,-2.365,-2.0925,-1.82],"range":["#8000ff","#4062fa","#00b4eb","#40ebd4","#80ffb4","#bfeb8e","#ffb462","#ff6232","#ff0000"],"interpolate":"rgb"},"legend":{"title":"log Nₘₑₘ/Nₜₒₜ","values":[-4,-3.5,-3,-2.5,-2],"labelExpr":"replace(format(datum.value,'.1f'),'-','−')"}}
}},
{"data":{"values":[{"p":0.8}]},"mark":{"type":"rule","strokeDash":[4,3],"color":"#8a8a8a","strokeWidth":1},
"encoding":{"y":{"field":"p","type":"quantitative","scale":{"domain":[0,1],"nice":false,"zero":false},"axis":null}}},
{"data":{"values":[{"r":0.13,"p":0.12,"t":"z: [0.200 − 0.300]"}]},"mark":{"type":"text","align":"left","baseline":"middle","font":"Liberation Serif","fontSize":14,"color":"black"},
"encoding":{
"x":{"field":"r","type":"quantitative","scale":{"domain":[0.01,1.2],"nice":false,"zero":false},"axis":{"orient":"top","labels":false,"title":null,"values":[0.2,0.4,0.6,0.8,1.0,1.2]}},
"y":{"field":"p","type":"quantitative","scale":{"domain":[0,1],"nice":false,"zero":false},"axis":{"orient":"right","labels":false,"title":null,"values":[0,0.2,0.4,0.6,0.8,1.0]}},
"text":{"field":"t"}}}
]},
{"width":204,"height":204,"resolve":{"axis":{"x":"independent","y":"independent"}},
"layer":[
{"data":{"name":"z3"},"mark":{"type":"rect","binSpacing":0,"x2Offset":-1,"y2Offset":1},
"encoding":{
"x":{"field":"r","type":"quantitative","bin":{"binned":true,"step":0.05},"scale":{"domain":[0.01,1.2],"nice":false,"zero":false},"axis":{"values":[0.2,0.4,0.6,0.8,1.0,1.2],"format":".1f","title":"R/Rλ","titlePadding":1}},
"y":{"field":"p","type":"quantitative","bin":{"binned":true,"step":0.04},"scale":{"domain":[0,1],"nice":false,"zero":false},"axis":{"values":[0,0.2,0.4,0.6,0.8,1.0],"format":".1f","title":"pₘₑₘ","titlePadding":3}},
"color":{"field":"v","type":"quantitative","scale":{"domain":[-4.0,-3.7275,-3.455,-3.1825,-2.91,-2.6375,-2.365,-2.0925,-1.82],"range":["#8000ff","#4062fa","#00b4eb","#40ebd4","#80ffb4","#bfeb8e","#ffb462","#ff6232","#ff0000"],"interpolate":"rgb"},"legend":{"title":"log Nₘₑₘ/Nₜₒₜ","values":[-4,-3.5,-3,-2.5,-2],"labelExpr":"replace(format(datum.value,'.1f'),'-','−')"}}
}},
{"data":{"values":[{"p":0.8}]},"mark":{"type":"rule","strokeDash":[4,3],"color":"#8a8a8a","strokeWidth":1},
"encoding":{"y":{"field":"p","type":"quantitative","scale":{"domain":[0,1],"nice":false,"zero":false},"axis":null}}},
{"data":{"values":[{"r":0.13,"p":0.12,"t":"z: [0.300 − 0.330]"}]},"mark":{"type":"text","align":"left","baseline":"middle","font":"Liberation Serif","fontSize":14,"color":"black"},
"encoding":{
"x":{"field":"r","type":"quantitative","scale":{"domain":[0.01,1.2],"nice":false,"zero":false},"axis":{"orient":"top","labels":false,"title":null,"values":[0.2,0.4,0.6,0.8,1.0,1.2]}},
"y":{"field":"p","type":"quantitative","scale":{"domain":[0,1],"nice":false,"zero":false},"axis":{"orient":"right","labels":false,"title":null,"values":[0,0.2,0.4,0.6,0.8,1.0]}},
"text":{"field":"t"}}}
]}
]
}
